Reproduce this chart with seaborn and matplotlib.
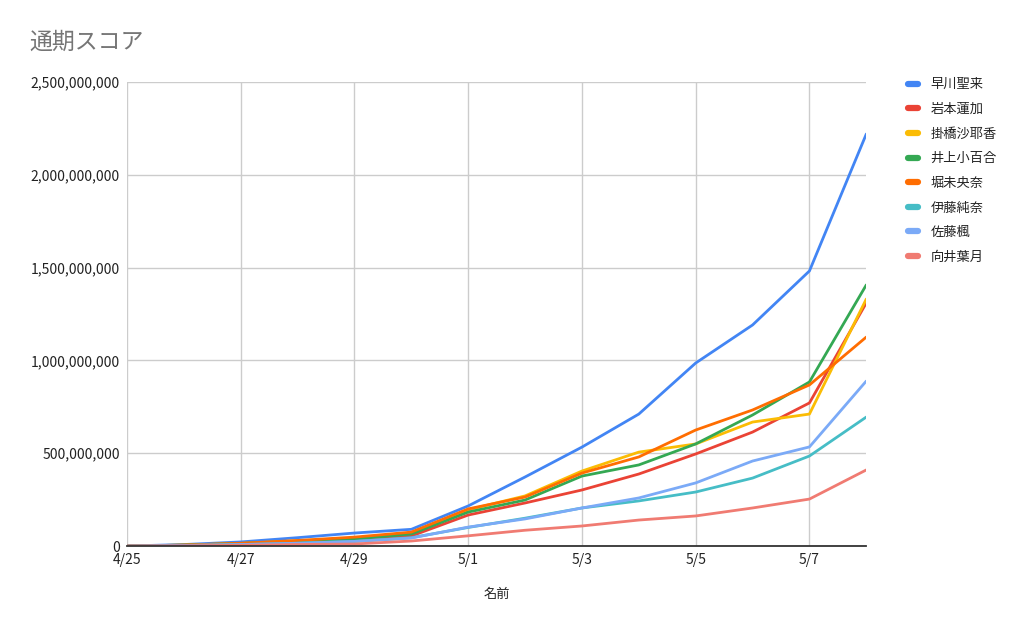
import pandas as pd
import matplotlib
matplotlib.use('Agg')
import matplotlib.pyplot as plt
import matplotlib.ticker as mticker
import seaborn as sns

# Data (score values)
dates = ['4/25', '4/26', '4/27', '4/28', '4/29', '4/30', '5/1',
         '5/2', '5/3', '5/4', '5/5', '5/6', '5/7', '5/8']
names = ['早川聖来', '岩本蓮加', '掛橋沙耶香', '井上小百合',
         '堀未央奈', '伊藤純奈', '佐藤楓', '向井葉月']

# values in millions
hayakawa = [0, 8, 22, 45, 70, 90, 216, 372, 533, 711, 986, 1191, 1482, 2220]
iwamoto = [0, 4, 12, 22, 32, 54, 167, 232, 302, 388, 496, 614, 771, 1310]
kakehashi = [0, 5, 14, 28, 42, 70, 195, 270, 404, 506, 550, 668, 711, 1331]
inoue = [0, 5, 14, 26, 38, 65, 183, 248, 377, 437, 550, 706, 884, 1407]
hori = [0, 5, 15, 30, 48, 75, 200, 264, 393, 480, 625, 733, 868, 1126]
ito = [0, 3, 8, 15, 25, 45, 100, 150, 205, 243, 291, 366, 485, 695]
sato = [0, 3, 8, 15, 25, 43, 102, 146, 205, 259, 340, 458, 534, 889]
mukai = [0, 1, 4, 8, 11, 27, 55, 85, 108, 140, 162, 205, 253, 410]

colors = ['#4285F4', '#EA4335', '#FBBC04', '#34A853',
          '#FF6D01', '#46BDC6', '#7BAAF7', '#F07B72']

series = [hayakawa, iwamoto, kakehashi, inoue, hori, ito, sato, mukai]
rows = []
for name, vals in zip(names, series):
    for i, (d, v) in enumerate(zip(dates, vals)):
        rows.append({'day': i, 'date': d, 'name': name, 'score': v * 1e6})
df = pd.DataFrame(rows)

sns.set_style('white')
plt.rcParams['font.family'] = ['Noto Sans CJK JP', 'DejaVu Sans']

fig = plt.figure(figsize=(10.24, 6.33), dpi=100)
ax = fig.add_axes([0.124, 0.1374, 0.722, 0.7330])

sns.lineplot(data=df, x='day', y='score', hue='name', hue_order=names,
             palette=colors, linewidth=2, ax=ax, legend=False)

ax.set_xlim(0, 13)
ax.set_ylim(0, 2.5e9)
ax.set_xticks(range(0, 13, 2))
ax.set_xticklabels(dates[0:13:2])
ax.set_yticks([0, 5e8, 1e9, 1.5e9, 2e9, 2.5e9])
ax.yaxis.set_major_formatter(mticker.FuncFormatter(lambda v, p: f'{v:,.0f}'))

ax.grid(True, color='#cccccc', linewidth=1)
ax.set_axisbelow(True)
for s in ['top', 'right', 'left']:
    ax.spines[s].set_visible(False)
ax.spines['bottom'].set_color('#333333')
ax.spines['bottom'].set_linewidth(1.3)
ax.tick_params(axis='both', length=0, labelsize=10, labelcolor='#222222')
ax.tick_params(axis='x', pad=5)
ax.tick_params(axis='y', pad=5)

ax.set_xlabel('名前', fontsize=9.5, color='#222222', labelpad=15)
ax.set_ylabel('')

fig.text(0.029, 0.933, '通期スコア', fontsize=16.5, color='#757575',
         va='center', ha='left')

# legend on the right
handles = [plt.Line2D([0], [0], color=c, linewidth=4.5, solid_capstyle='round')
           for c in colors]
leg = fig.legend(handles, names, loc='upper left', bbox_to_anchor=(0.875, 0.895),
                 frameon=False, fontsize=9.5, handlelength=0.8,
                 handletextpad=0.9, labelspacing=0.88)
for t in leg.get_texts():
    t.set_color('#222222')

fig.savefig('out.png', dpi=100)
